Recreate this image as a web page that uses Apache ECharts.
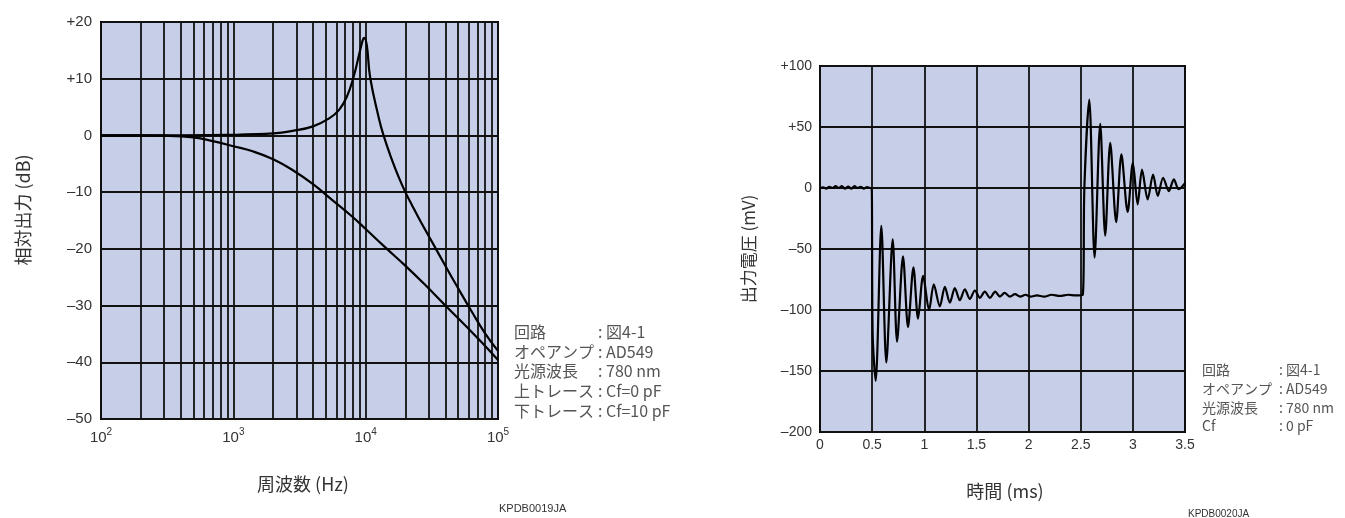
<!DOCTYPE html>
<html><head><meta charset="utf-8">
<script src="https://cdn.jsdelivr.net/npm/echarts@6/dist/echarts.min.js"></script>
<style>html,body{margin:0;padding:0;background:#fff}#c{width:1345px;height:518px}</style>
</head><body><div id="c"></div>
<script>
// ---- Left chart: frequency response ----
const freqUpper = [100, 300, 1000, 1250, 2000, 2800, 4000, 5300, 6300, 7200, 8100, 8850, 9500, 9750, 10200, 10800, 12500, 13650, 15850, 17800, 19950, 22400, 25100, 31600, 39800, 50100, 63100, 79400, 100000];
const gainUpper = [0, 0, 0.1, 0.2, 0.35, 0.8, 1.6, 3.0, 4.5, 6.8, 10.3, 13.9, 16.8, 17.2, 15.9, 10.3, 3.3, 0, -4.4, -7.4, -10.0, -12.3, -14.5, -18.7, -22.9, -27.0, -31.0, -34.8, -38.0];
const freqLower = [100, 200, 300, 500, 700, 1000, 1400, 2000, 2800, 4000, 5600, 7900, 10000, 14000, 20000, 28000, 40000, 63000, 79000, 100000];
const gainLower = [0, 0, -0.05, -0.35, -1.0, -1.9, -2.8, -4.2, -6.1, -8.6, -11.4, -14.3, -16.5, -19.7, -23.0, -26.3, -30.0, -34.6, -37.0, -39.6];
const freqDecades = [100, 1000, 10000];
const gainRange = [-50, 20, 10];
const legendLeft = [['回路', '図4-1'], ['オペアンプ', 'AD549'], ['光源波長', '780 nm'], ['上トレース', 'Cf=0 pF'], ['下トレース', 'Cf=10 pF']];

// ---- Right chart: step response ----
const timeMs = [0, 0.03, 0.06, 0.09, 0.12, 0.15, 0.18, 0.21, 0.24, 0.27, 0.30, 0.33, 0.36, 0.39, 0.42, 0.45, 0.48, 0.495,
  0.505, 0.534, 0.588, 0.636, 0.697, 0.739, 0.796, 0.844, 0.896, 0.94, 0.989, 1.046, 1.091, 1.149, 1.197, 1.245, 1.293, 1.341,
  1.389, 1.437, 1.485, 1.534, 1.58, 1.63, 1.68, 1.726, 1.77, 1.822, 1.87, 1.92, 1.97, 2.02, 2.08, 2.15, 2.22, 2.3, 2.38, 2.45, 2.52,
  2.535, 2.582, 2.633, 2.687, 2.735, 2.783, 2.84, 2.89, 2.95, 3.0, 3.046, 3.088, 3.142, 3.194, 3.239, 3.29, 3.345, 3.393, 3.44, 3.5];
const voltMv = [0, 0.5, -0.5, 1, 0, 1.5, 0, 1.5, -0.5, 1.2, -0.5, 1.5, 0, 1, -0.5, 0.8, 0, 0,
  -120, -158, -31, -143, -42, -126, -56, -114, -65, -107, -72, -100, -79, -97, -81, -94, -82, -92,
  -83, -91, -84, -90, -85, -90, -85, -89, -86, -89, -87, -89, -87.5, -89, -88, -89, -87.5, -88.5, -87.5, -88, -87.5,
  0, 72.5, -57, 52.6, -39, 37, -28, 27.5, -19.6, 20.7, -13.4, 15, -9.3, 11, -6.5, 8.4, -2.5, 7, -1, 4];
const timeRange = [0, 3.5, 0.5];
const voltRange = [-200, 100, 50];
const legendRight = [['回路', '図4-1'], ['オペアンプ', 'AD549'], ['光源波長', '780 nm'], ['Cf', '0 pF']];

const zip = (a, b) => a.map((v, i) => [v, b[i]]);
const minorFreq = [];
freqDecades.forEach(d => { for (let k = 2; k <= 9; k++) minorFreq.push(d * k); });

const NUM = "'Liberation Sans', 'Noto Sans', sans-serif";
const JP = "'Noto Sans CJK JP', sans-serif";
const BG = '#c7cfe8';
const GRID = '#111';
const GW = 1.8;
const sup = {2: '2', 3: '3', 4: '4', 5: '5'};
const signFmt = v => v > 0 ? '+' + v : (v < 0 ? '–' + (-v) : '0');

const chart = echarts.init(document.getElementById('c'), null, {renderer: 'canvas'});

const graphics = [];
function txt(x, y, text, size, color, font, align, rot) {
  graphics.push({type: 'text', x: x, y: y, rotation: rot || 0, silent: true, z: 100,
    style: {text: text, fill: color, font: size + 'px ' + font, textAlign: align || 'left', textVerticalAlign: 'middle'}});
}
txt(23, 210, '相対出力 (dB)', 18, '#333', JP, 'center', Math.PI / 2);
txt(303, 484, '周波数 (Hz)', 18, '#333', JP, 'center');
txt(749, 249, '出力電圧 (mV)', 17, '#333', JP, 'center', Math.PI / 2);
txt(1005, 491, '時間 (ms)', 18, '#333', JP, 'center');
txt(499, 509, 'KPDB0019JA', 11, '#333', NUM, 'left');
txt(1188, 514, 'KPDB0020JA', 10, '#333', NUM, 'left');
legendLeft.forEach((r, i) => {
  txt(514, 332 + i * 19.7, r[0], 16, '#555', JP, 'left');
  txt(598, 332 + i * 19.7, ': ' + r[1], 16, '#555', JP, 'left');
});
legendRight.forEach((r, i) => {
  txt(1202, 370 + i * 18.6, r[0], 14, '#555', JP, 'left');
  txt(1279, 370 + i * 18.6, ': ' + r[1], 14, '#555', JP, 'left');
});

const axisCommon = {
  axisLine: {show: false}, axisTick: {show: false},
  splitLine: {show: true, lineStyle: {color: GRID, width: GW}}
};

chart.setOption({
  animation: false,
  backgroundColor: '#fff',
  grid: [
    {left: 101, top: 22, width: 397, height: 397, show: true, backgroundColor: BG, borderColor: '#000', borderWidth: 2},
    {left: 820, top: 66, width: 365, height: 366, show: true, backgroundColor: BG, borderColor: '#000', borderWidth: 2}
  ],
  xAxis: [
    Object.assign({type: 'log', gridIndex: 0, logBase: 10, min: 100, max: 100000,
      axisLabel: {margin: 8, color: '#333', fontFamily: NUM,
        formatter: v => '{b|10}{s|' + sup[Math.round(Math.log10(v))] + '}',
        rich: {b: {fontSize: 15, fontFamily: NUM, color: '#333', lineHeight: 18, verticalAlign: 'bottom'},
               s: {fontSize: 10, fontFamily: NUM, color: '#333', lineHeight: 18, verticalAlign: 'top'}}}
    }, axisCommon),
    Object.assign({type: 'value', gridIndex: 1, min: timeRange[0], max: timeRange[1], interval: timeRange[2],
      axisLabel: {margin: 6, color: '#333', fontSize: 14, fontFamily: NUM, formatter: v => String(v)}
    }, axisCommon)
  ],
  yAxis: [
    Object.assign({type: 'value', gridIndex: 0, min: gainRange[0], max: gainRange[1], interval: gainRange[2],
      axisLabel: {margin: 9, color: '#333', fontSize: 15, fontFamily: NUM, formatter: signFmt}
    }, axisCommon),
    Object.assign({type: 'value', gridIndex: 1, min: voltRange[0], max: voltRange[1], interval: voltRange[2],
      axisLabel: {margin: 8, color: '#333', fontSize: 14, fontFamily: NUM, formatter: signFmt}
    }, axisCommon)
  ],
  series: [
    {type: 'line', xAxisIndex: 0, yAxisIndex: 0, data: zip(freqUpper, gainUpper), symbol: 'none', smooth: 0.45,
      lineStyle: {color: '#000', width: 2.2}, z: 5,
      markLine: {silent: true, symbol: ['none', 'none'], label: {show: false}, animation: false,
        lineStyle: {color: GRID, width: GW, type: 'solid'}, emphasis: {disabled: true},
        data: minorFreq.map(f => ({xAxis: f}))}},
    {type: 'line', xAxisIndex: 0, yAxisIndex: 0, data: zip(freqLower, gainLower), symbol: 'none', smooth: 0.45,
      lineStyle: {color: '#000', width: 2.2}, z: 5},
    {type: 'line', xAxisIndex: 1, yAxisIndex: 1, data: zip(timeMs, voltMv), symbol: 'none', smooth: 0.3,
      lineStyle: {color: '#000', width: 2.2}, z: 5}
  ],
  graphic: graphics
});
</script></body></html>
